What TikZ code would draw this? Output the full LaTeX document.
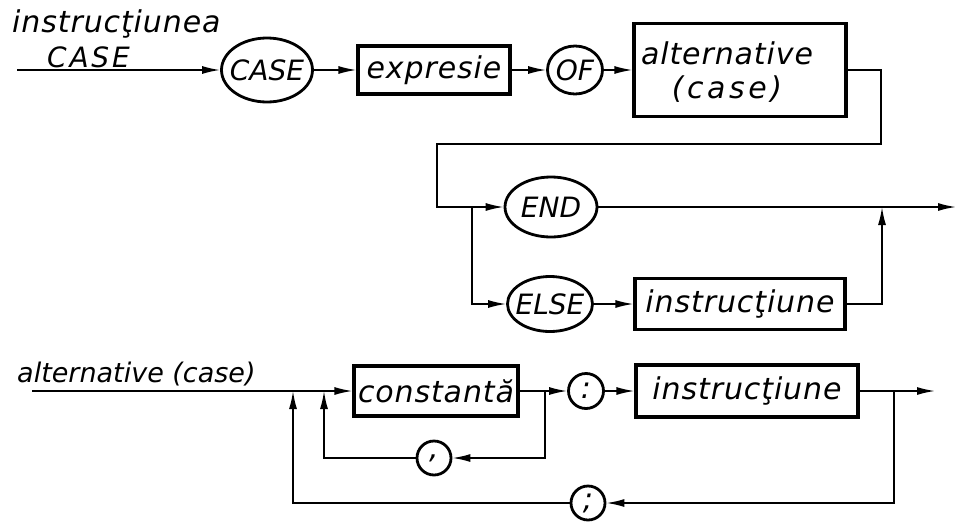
\documentclass[tikz,border=0pt]{standalone}
\usepackage{fontspec}
\setmainfont{DejaVu Sans}[LetterSpace=3]
\usetikzlibrary{shapes.geometric,arrows.meta}
\begin{document}
\begin{tikzpicture}[x=1pt,y=-1pt,
  font=\itshape\fontsize{30}{34}\selectfont,
  box/.style={draw,line width=3.2pt,rectangle,inner sep=0pt},
  oval/.style={draw,line width=2.8pt,ellipse,inner sep=0pt},
  rnd/.style={draw,line width=2.8pt,circle,inner sep=0pt,minimum size=35pt},
  kw/.style={inner sep=0pt,font=\itshape\fontsize{28}{30}\selectfont\addfontfeatures{LetterSpace=0}},
  lbl/.style={inner sep=0pt,anchor=base west},
  conn/.style={line width=1.6pt},
  arr/.style={conn,-{Latex[length=18pt,width=8pt]}},
]
\useasboundingbox (0,0) rectangle (957,522);

% ---- instructiunea CASE ----
\node[lbl] (t1) at (12,32) {instrucţiunea};
\node[lbl,font=\itshape\fontsize{28}{30}\selectfont\addfontfeatures{LetterSpace=10}] (t2) at (47,67) {CASE};
\coordinate (s1) at (17,70);
\node[oval,minimum width=91pt,minimum height=64pt] (case) at (267,70) {};
\node[kw] (caset) at (case) {CASE};
\node[box,minimum width=152pt,minimum height=48pt] (expr) at (434,70) {expresie};
\node[oval,minimum width=55pt,minimum height=48pt] (of) at (575,70) {};
\node[kw] (oft) at (of) {OF};
\node[box,minimum width=212pt,minimum height=93pt] (alt) at (740,70) {};
\node[inner sep=0pt,align=center] (altt) at (727,72) {alternative\\{\addfontfeatures{LetterSpace=12}(case)}};

\coordinate (c1) at (881,144);
\coordinate (c2) at (437,144);
\node[oval,minimum width=92pt,minimum height=60pt] (end) at (551,207) {};
\node[kw] (endt) at (end) {END};
\coordinate (j1) at (472,207);
\coordinate (j2) at (882,207);
\coordinate (out1) at (956,207);
\node[oval,minimum width=85pt,minimum height=55pt] (else) at (550,304) {};
\node[kw] (elset) at (else) {ELSE};
\node[box,minimum width=210pt,minimum height=51pt] (ins1) at (740,304) {instrucţiune};

\draw[arr] (s1) -- (case.west);
\draw[arr] (case.east) -- (expr.west);
\draw[arr] (expr.east) -- (of.west);
\draw[arr] (of.east) -- (alt.west);
\draw[arr] (alt.east) -| (c1) -- (c2) |- (end.west);
\draw[arr] (j1) |- (else.west);
\draw[arr] (else.east) -- (ins1.west);
\draw[arr] (ins1.east) -| (j2);
\draw[arr] (end.east) -- (out1);

% ---- alternative (case) ----
\node[lbl,font=\itshape\fontsize{27}{30}\selectfont\addfontfeatures{LetterSpace=0}] (t3) at (17,382) {alternative (case)};
\coordinate (s2) at (32,391);
\node[box,minimum width=164pt,minimum height=50pt] (const) at (436,391) {constantă};
\node[rnd] (colon) at (586,391) {:};
\node[box,minimum width=222pt,minimum height=52pt] (ins2) at (747,391) {instrucţiune};
\node[rnd,minimum size=34pt] (comma) at (434,458) {,};
\node[rnd,minimum size=34pt] (semi) at (588,503) {;};
\coordinate (j3) at (545,391);
\coordinate (j4) at (894,391);
\coordinate (out2) at (935,391);
\coordinate (u1) at (324,391);
\coordinate (u2) at (293,391);

\draw[arr] (s2) -- (const.west);
\draw[conn] (const.east) -- (j3);
\draw[arr] (j3) -- (colon.west);
\draw[arr] (j3) |- (comma.east);
\draw[arr] (comma.west) -| (u1);
\draw[arr] (colon.east) -- (ins2.west);
\draw[conn] (ins2.east) -- (j4);
\draw[arr] (j4) -- (out2);
\draw[arr] (j4) |- (semi.east);
\draw[arr] (semi.west) -| (u2);
\end{tikzpicture}
\end{document}
